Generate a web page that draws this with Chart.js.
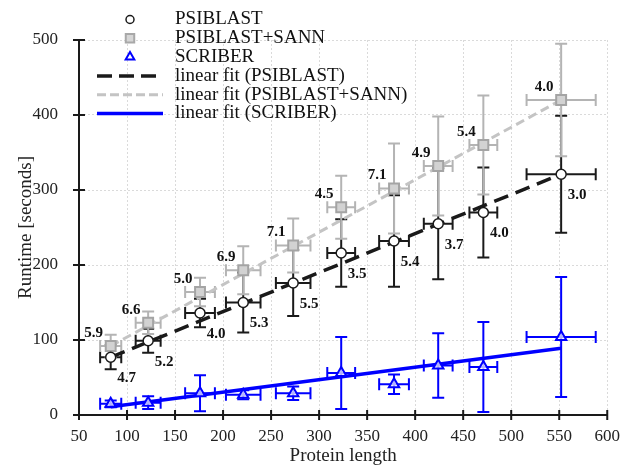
<!DOCTYPE html>
<html>
<head>
<meta charset="utf-8">
<script src="https://cdn.jsdelivr.net/npm/chart.js@4.4.0/dist/chart.umd.min.js"></script>
<style>
  html, body { margin: 0; padding: 0; background: #fff; }
  #wrap { width: 631px; height: 465px; }
</style>
</head>
<body>
<div id="wrap"><canvas id="runtimeChart"></canvas></div>
<script>
// protein length groups (x) and their spread
const lengths   = [83, 122, 176, 221, 273, 323, 378, 424, 471, 552];
const lengthErr = [11, 13, 15.5, 18, 18, 14.5, 15.5, 15, 14.5, 36];

// runtime in seconds, with error
const psiblast        = [77, 99, 136, 150, 176, 216, 232, 255, 270, 321];
const psiblastErr     = [16, 16, 19, 40, 44, 45, 61, 74, 60, 78];
const psiblastSann    = [92, 123, 164, 193, 226, 277, 302, 332, 360, 420];
const psiblastSannErr = [15, 15, 19, 32, 36, 42, 60, 66, 66, 75];
const scriber         = [15, 16.5, 29, 27, 29, 56, 41, 66, 64, 104];
const scriberErr      = [4.5, 8.5, 24, 6, 9, 48, 13, 43, 60, 80];

// numbers printed beside the points
const sannLabels     = ['5.9', '6.6', '5.0', '6.9', '7.1', '4.5', '7.1', '4.9', '5.4', '4.0'];
const psiblastLabels = ['4.7', '5.2', '4.0', '5.3', '5.5', '3.5', '5.4', '3.7', '4.0', '3.0'];

// end points of the linear fits
const fitX        = [83, 552];
const fitPsiblast = [77, 321];
const fitSann     = [92, 420];
const fitScriber  = [11, 89];

const black = '#1a1a1a';
const grey = '#b4b4b4';
const blue = '#0000ff';
const serif = "'Liberation Serif', 'Times New Roman', serif";

const pts = (ys, xs) => ys.map((y, i) => ({ x: (xs || lengths)[i], y: y }));

// error bars, drawn under the markers
const errorBars = {
  id: 'errorBars',
  beforeDatasetsDraw(chart) {
    const { ctx } = chart;
    const sx = chart.scales.x, sy = chart.scales.y;
    const cap = 6;
    const groups = [
      { vals: psiblast, err: psiblastErr, color: black },
      { vals: psiblastSann, err: psiblastSannErr, color: grey },
      { vals: scriber, err: scriberErr, color: blue },
    ];
    ctx.save();
    ctx.lineWidth = 2;
    groups.forEach(g => {
      ctx.strokeStyle = g.color;
      g.vals.forEach((v, i) => {
        const cx = sx.getPixelForValue(lengths[i]);
        const cy = sy.getPixelForValue(v);
        const top = sy.getPixelForValue(v + g.err[i]);
        const bot = sy.getPixelForValue(v - g.err[i]);
        const left = sx.getPixelForValue(lengths[i] - lengthErr[i]);
        const right = sx.getPixelForValue(lengths[i] + lengthErr[i]);
        ctx.beginPath();
        ctx.moveTo(cx, top); ctx.lineTo(cx, bot);
        ctx.moveTo(cx - cap, top); ctx.lineTo(cx + cap, top);
        ctx.moveTo(cx - cap, bot); ctx.lineTo(cx + cap, bot);
        ctx.moveTo(left, cy); ctx.lineTo(right, cy);
        ctx.moveTo(left, cy - cap); ctx.lineTo(left, cy + cap);
        ctx.moveTo(right, cy - cap); ctx.lineTo(right, cy + cap);
        ctx.stroke();
      });
    });
    ctx.restore();
  }
};

// the bold numbers next to each point
const pointLabels = {
  id: 'pointLabels',
  afterDatasetsDraw(chart) {
    const { ctx } = chart;
    const sx = chart.scales.x, sy = chart.scales.y;
    ctx.save();
    ctx.font = 'bold 15px ' + serif;
    ctx.fillStyle = '#111';
    ctx.textAlign = 'center';
    ctx.textBaseline = 'middle';
    lengths.forEach((x, i) => {
      const px = sx.getPixelForValue(x);
      ctx.fillText(sannLabels[i], px - 17, sy.getPixelForValue(psiblastSann[i]) - 13);
      ctx.fillText(psiblastLabels[i], px + 16, sy.getPixelForValue(psiblast[i]) + 21);
    });
    ctx.restore();
  }
};

// ticks that cross the axis lines
const crossTicks = {
  id: 'crossTicks',
  afterDraw(chart) {
    const { ctx, chartArea } = chart;
    const sx = chart.scales.x, sy = chart.scales.y;
    ctx.save();
    ctx.strokeStyle = black;
    ctx.lineWidth = 2;
    ctx.beginPath();
    sx.ticks.forEach((t, i) => {
      const p = sx.getPixelForTick(i);
      ctx.moveTo(p, chartArea.bottom - 5); ctx.lineTo(p, chartArea.bottom + 5);
    });
    sy.ticks.forEach((t, i) => {
      const p = sy.getPixelForTick(i);
      ctx.moveTo(chartArea.left - 6, p); ctx.lineTo(chartArea.left + 6, p);
    });
    ctx.stroke();
    ctx.restore();
  }
};

// legend in the top left corner
const cornerLegend = {
  id: 'cornerLegend',
  afterDraw(chart) {
    const { ctx, chartArea } = chart;
    const mx = chartArea.left + 51, tx = chartArea.left + 96;
    const rowY = i => chartArea.top - 20.5 + 18.8 * i;
    const rows = [
      { text: 'PSIBLAST', point: { pointStyle: 'circle', radius: 4, borderWidth: 1.5 }, fill: '#fff', stroke: black },
      { text: 'PSIBLAST+SANN', point: { pointStyle: 'rect', radius: 6, borderWidth: 2 }, fill: '#d6d6d6', stroke: '#a8a8a8' },
      { text: 'SCRIBER', point: { pointStyle: 'triangle', radius: 5, borderWidth: 2 }, fill: '#fff', stroke: blue },
      { text: 'linear fit (PSIBLAST)', line: { color: black, dash: [15, 7], width: 3.5 } },
      { text: 'linear fit (PSIBLAST+SANN)', line: { color: '#c4c4c4', dash: [9, 4], width: 3 } },
      { text: 'linear fit (SCRIBER)', line: { color: blue, dash: [], width: 3.5 } },
    ];
    ctx.save();
    rows.forEach((r, i) => {
      const y = rowY(i);
      if (r.point) {
        ctx.fillStyle = r.fill;
        ctx.strokeStyle = r.stroke;
        ctx.lineWidth = r.point.borderWidth;
        Chart.helpers.drawPoint(ctx, r.point, mx, y);
      } else {
        ctx.beginPath();
        ctx.setLineDash(r.line.dash);
        ctx.strokeStyle = r.line.color;
        ctx.lineWidth = r.line.width;
        ctx.moveTo(chartArea.left + 18, y);
        ctx.lineTo(chartArea.left + 84, y);
        ctx.stroke();
        ctx.setLineDash([]);
      }
      ctx.font = '19px ' + serif;
      ctx.fillStyle = '#111';
      ctx.textBaseline = 'middle';
      ctx.fillText(r.text, tx, y);
    });
    ctx.restore();
  }
};

new Chart(document.getElementById('runtimeChart'), {
  type: 'scatter',
  data: {
    datasets: [
      {
        label: 'PSIBLAST',
        data: pts(psiblast),
        pointStyle: 'circle',
        pointRadius: 5,
        pointBackgroundColor: '#fff',
        pointBorderColor: black,
        pointBorderWidth: 1.5,
      },
      {
        label: 'PSIBLAST+SANN',
        data: pts(psiblastSann),
        pointStyle: 'rect',
        pointRadius: 7,
        pointBackgroundColor: '#d2d2d2',
        pointBorderColor: '#a4a4a4',
        pointBorderWidth: 2,
      },
      {
        label: 'SCRIBER',
        data: pts(scriber),
        pointStyle: 'triangle',
        pointRadius: 6,
        pointBackgroundColor: 'rgba(255,255,255,0.7)',
        pointBorderColor: blue,
        pointBorderWidth: 2,
      },
      {
        label: 'linear fit (PSIBLAST)',
        data: pts(fitPsiblast, fitX),
        showLine: true,
        pointRadius: 0,
        borderColor: black,
        borderWidth: 3.5,
        borderDash: [15, 8],
      },
      {
        label: 'linear fit (PSIBLAST+SANN)',
        data: pts(fitSann, fitX),
        showLine: true,
        pointRadius: 0,
        borderColor: '#c4c4c4',
        borderWidth: 3,
        borderDash: [9, 5],
      },
      {
        label: 'linear fit (SCRIBER)',
        data: pts(fitScriber, fitX),
        showLine: true,
        pointRadius: 0,
        borderColor: blue,
        borderWidth: 3.5,
      },
    ]
  },
  options: {
    responsive: true,
    maintainAspectRatio: false,
    animation: false,
    layout: { padding: { top: 40, right: 16, bottom: 0, left: 0 } },
    plugins: {
      legend: { display: false },
      tooltip: { enabled: false },
    },
    scales: {
      x: {
        type: 'linear',
        min: 50,
        max: 600,
        afterFit: s => { s.height = 50; },
        ticks: { stepSize: 50, padding: 11, color: '#222', font: { family: serif, size: 17 } },
        grid: { color: '#dadada', drawTicks: false },
        border: { display: true, color: black, width: 2, dash: [2, 2] },
        title: { display: true, text: 'Protein length', color: '#222', font: { family: serif, size: 19 }, padding: { top: 0, bottom: -2 } },
      },
      y: {
        type: 'linear',
        min: 0,
        max: 500,
        afterFit: s => { s.width = 79; },
        ticks: { stepSize: 100, padding: 21, color: '#222', font: { family: serif, size: 17 } },
        grid: { color: '#dadada', drawTicks: false },
        border: { display: true, color: black, width: 2, dash: [2, 2] },
        title: { display: true, text: 'Runtime [seconds]', color: '#222', font: { family: serif, size: 19 }, padding: { top: 15, bottom: 0 } },
      },
    },
  },
  plugins: [errorBars, pointLabels, crossTicks, cornerLegend],
});
</script>
</body>
</html>
